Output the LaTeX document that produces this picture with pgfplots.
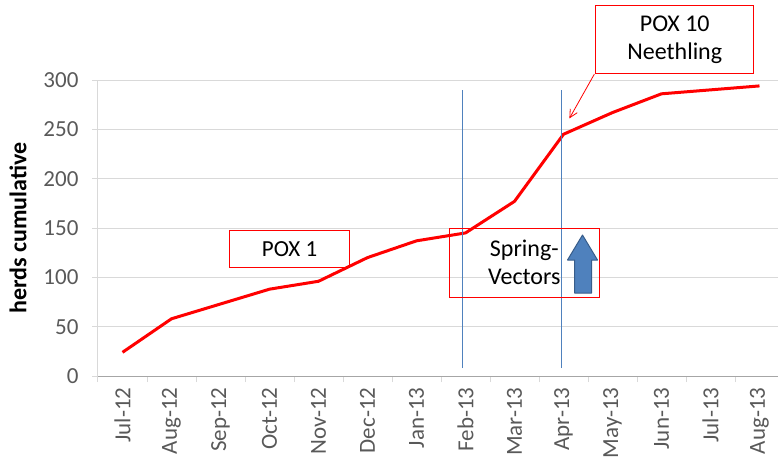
\documentclass[border=0pt]{standalone}
\usepackage{fontspec}
\setmainfont{Carlito}
\usepackage{pgfplots}
\pgfplotsset{compat=1.18}
\usetikzlibrary{arrows.meta}
\definecolor{tickgray}{HTML}{595959}
\definecolor{gridgray}{HTML}{D9D9D9}
\definecolor{vline}{HTML}{4F81BD}
\definecolor{arrfill}{HTML}{4F81BD}
\definecolor{arrdraw}{HTML}{385D8A}
\begin{document}
\begin{tikzpicture}
\begin{axis}[
  scale only axis, width=686pt, height=296pt,
  xmin=-0.5, xmax=13.5, ymin=0, ymax=300,
  clip=false,
  axis x line*=bottom, axis y line*=left,
  axis line style={draw=gridgray, line width=1pt},
  x axis line style={draw=gray!70},
  ytick={0,50,...,300},
  ymajorgrids, grid style={draw=gridgray, line width=1pt},
  xtick={-0.5,0.5,...,13.5},
  x tick label as interval,
  xticklabels={Jul-12,Aug-12,Sep-12,Oct-12,Nov-12,Dec-12,Jan-13,Feb-13,Mar-13,Apr-13,May-13,Jun-13,Jul-13,Aug-13},
  tick align=outside, major tick length=6pt,
  tick style={draw=gridgray, line width=1pt},
  ticklabel style={font=\fontsize{23}{25}\selectfont, text=tickgray},
  xticklabel style={rotate=90, anchor=east, xshift=-2pt},
  yticklabel style={xshift=-10pt},
  /pgf/number format/assume math mode=true,
  ylabel={herds cumulative},
  ylabel style={font=\fontsize{24}{26}\selectfont\bfseries, at={(axis description cs:0,0.5)}, anchor=center, yshift=80pt},
]
\addplot[red, line width=3pt, line join=round] coordinates {
 (0,24) (1,58) (2,73) (3,88) (4,96) (5,120) (6,137) (7,145) (8,177) (9,245) (10,267) (11,286) (12,290) (13,294)
};
\addplot[vline, line width=1pt] coordinates {(6.94,8) (6.94,290)};
\addplot[vline, line width=1pt] coordinates {(8.96,8) (8.96,290)};
\node[draw=red, line width=1pt, minimum width=120pt, minimum height=37pt, inner sep=0pt, font=\fontsize{23}{26}\selectfont] at (axis cs:3.41,129) {POX 1};
\node[draw=red, line width=1pt, minimum width=150pt, minimum height=69pt, inner sep=0pt, font=\fontsize{24}{28}\selectfont, align=center] at (axis cs:8.2,115) {Spring-\\Vectors};
\node[draw=red, fill=white, line width=1pt, minimum width=158pt, minimum height=68pt, inner sep=0pt, font=\fontsize{24}{28}\selectfont, align=center] at (axis cs:11.27,341) {POX 10\\Neethling};
\draw[red, line width=0.8pt, -{Straight Barb[length=8pt,width=8pt]}] (axis cs:9.63,306) -- (axis cs:9.12,261);
\filldraw[fill=arrfill, draw=arrdraw, line width=1pt, line join=round] (axis cs:9.388,142.9) -- ++(15pt,-25pt) -- ++(-6pt,0pt) -- ++(0pt,-33pt) -- ++(-17pt,0pt) -- ++(0pt,33pt) -- ++(-7pt,0pt) -- cycle;
\end{axis}
\pgfresetboundingbox
\path[use as bounding box] (current axis.south west) ++(-98pt,-96pt) rectangle ++(778pt,472pt);
\end{tikzpicture}
\end{document}
